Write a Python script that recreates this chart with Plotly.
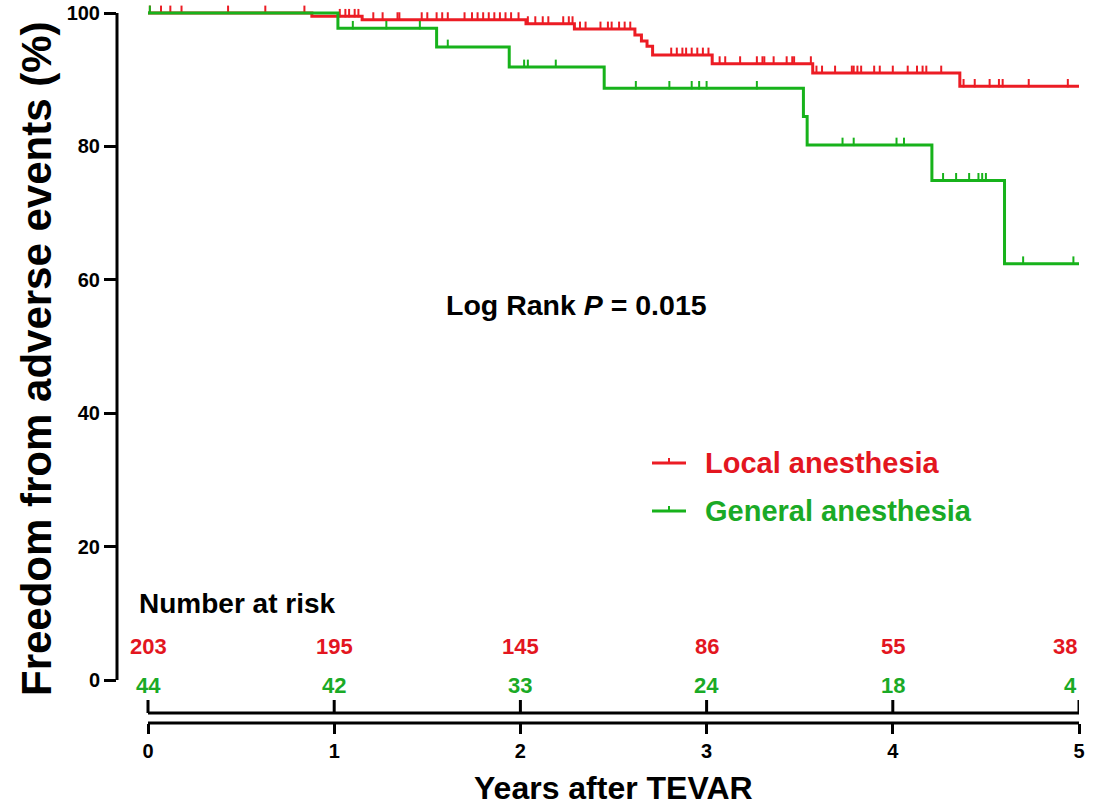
import plotly.graph_objects as go

# ---------------- data ----------------
years_ticks = [0, 1, 2, 3, 4, 5]
y_ticks = [0, 20, 40, 60, 80, 100]

# Local anesthesia (red): event times (years) and survival after each step (%)
local_event_t = [0.88, 1.15, 2.03, 2.29, 2.615, 2.65, 2.68, 2.71, 3.03, 3.57, 4.36]
local_event_s = [99.5, 99.0, 98.4, 97.6, 96.7, 95.8, 95.0, 93.7, 92.4, 91.0, 89.0]
local_censor_t = [0.01, 0.07, 0.12, 0.18, 0.43, 0.63, 0.84,
                  1.03, 1.06, 1.08, 1.11, 1.13,
                  1.21, 1.26, 1.34, 1.35, 1.47, 1.50, 1.55, 1.58, 1.61, 1.70,
                  1.74, 1.77, 1.80, 1.83, 1.86, 1.89, 1.92, 1.95, 1.99,
                  2.04, 2.08, 2.12, 2.15, 2.23, 2.26, 2.28,
                  2.32, 2.35, 2.43, 2.47, 2.49, 2.53, 2.56, 2.59,
                  2.81, 2.84, 2.87, 2.89, 2.92, 2.95, 2.98, 3.01,
                  3.07, 3.10, 3.18, 3.27, 3.30, 3.31, 3.36, 3.43, 3.46, 3.47, 3.56,
                  3.59, 3.62, 3.69, 3.78, 3.79, 3.81, 3.83, 3.90, 3.93, 4.00,
                  4.08, 4.13, 4.16, 4.18, 4.26,
                  4.38, 4.44, 4.52, 4.57, 4.59, 4.73, 4.94]

# General anesthesia (green)
general_event_t = [1.02, 1.55, 1.94, 2.45, 3.52, 3.54, 4.21, 4.60]
general_event_s = [97.7, 94.9, 91.9, 88.7, 84.5, 80.2, 74.9, 62.4]
general_censor_t = [0.01, 1.10, 1.28, 1.46, 1.61, 2.02, 2.04, 2.19,
                    2.62, 2.80, 2.92, 2.96, 3.00, 3.27,
                    3.73, 3.79, 4.02, 4.06,
                    4.27, 4.34, 4.41, 4.46, 4.48, 4.50,
                    4.70, 4.97]

risk_local = [203, 195, 145, 86, 55, 38]
risk_general = [44, 42, 33, 24, 18, 4]

series_names = ["Local anesthesia", "General anesthesia"]
log_rank_text = "Log Rank <i>P</i> = 0.015"

# ---------------- style ----------------
RED = "#EC1C24"
GREEN = "#17B21B"
RED_TXT = "#E3161F"
GREEN_TXT = "#1AAA26"
FONT = "Liberation Sans, Arial, Helvetica, sans-serif"

W, H = 1117, 808
ML, MR, MT, MB = 117, 38, 8, 85
PX_PER_YEAR = 186.2
PX_PER_PCT = 6.67
plot_w = W - ML - MR
plot_h = H - MT - MB
x_range = [5 - plot_w / PX_PER_YEAR, 5]
y_top = 100 + 5 / PX_PER_PCT
y_range = [y_top - plot_h / PX_PER_PCT, y_top]


def step_xy(ev_t, ev_s):
    xs = [0] + list(ev_t) + [5]
    ys = [100] + list(ev_s) + [ev_s[-1]]
    return xs, ys


def surv_at(t, ev_t, ev_s):
    s = 100.0
    for et, es in zip(ev_t, ev_s):
        if et <= t:
            s = es
    return s


fig = go.Figure()

for ev_t, ev_s, cen_t, col, name in [
    (local_event_t, local_event_s, local_censor_t, RED, series_names[0]),
    (general_event_t, general_event_s, general_censor_t, GREEN, series_names[1]),
]:
    xs, ys = step_xy(ev_t, ev_s)
    fig.add_trace(go.Scatter(x=xs, y=ys, mode="lines", line=dict(color=col, width=3, shape="hv"),
                             name=name, showlegend=False, hoverinfo="skip"))
    off = 3.2 / PX_PER_PCT
    fig.add_trace(go.Scatter(x=cen_t, y=[surv_at(t, ev_t, ev_s) + off for t in cen_t], mode="markers",
                             marker=dict(symbol="line-ns", size=6, line=dict(color=col, width=2)),
                             showlegend=False, hoverinfo="skip", cliponaxis=False))

shapes = []
# y axis line (0 to 100)
shapes.append(dict(type="line", xref="paper", yref="y", x0=0, x1=0, y0=0, y1=100,
                   line=dict(color="black", width=3)))
# lower x axis line
shapes.append(dict(type="line", xref="x", yref="paper", x0=0, x1=5, y0=0, y1=0,
                   line=dict(color="black", width=3)))
# upper (risk-table) axis line with upward ticks
up_y = 10 / plot_h
shapes.append(dict(type="line", xref="x", yref="paper", x0=0, x1=5, y0=up_y, y1=up_y,
                   line=dict(color="black", width=3)))
for t in years_ticks:
    shapes.append(dict(type="line", xref="x", yref="paper", x0=t, x1=t,
                       y0=up_y, y1=up_y + 13 / plot_h,
                       line=dict(color="black", width=3)))

annotations = []
# risk table
annotations.append(dict(text="<b>Number at risk</b>", x=-0.06, y=11.4, xref="x", yref="y",
                        xanchor="left", yanchor="middle", showarrow=False,
                        font=dict(family=FONT, size=28, color="black")))
for i, t in enumerate(years_ticks):
    anchor = "right" if t == 5 else "center"
    annotations.append(dict(text=f"<b>{risk_local[i]}</b>", x=t, y=5.0, xref="x", yref="y",
                            xanchor=anchor, yanchor="middle", showarrow=False,
                            font=dict(family=FONT, size=22, color=RED_TXT)))
    annotations.append(dict(text=f"<b>{risk_general[i]}</b>", x=t, y=-0.75, xref="x", yref="y",
                            xanchor=anchor, yanchor="middle", showarrow=False,
                            font=dict(family=FONT, size=22, color=GREEN_TXT)))

# log rank
annotations.append(dict(text=f"<b>{log_rank_text}</b>", x=2.30, y=56.2, xref="x", yref="y",
                        xanchor="center", yanchor="middle", showarrow=False,
                        font=dict(family=FONT, size=28.5, color="black")))

# manual legend
leg_items = [(series_names[0], RED, RED_TXT, 463), (series_names[1], GREEN, GREEN_TXT, 511)]
for name, col, tcol, py in leg_items:
    yv = (680 - py) / PX_PER_PCT
    x0 = (652 - 148) / PX_PER_YEAR
    x1 = (686 - 148) / PX_PER_YEAR
    xm = (669 - 148) / PX_PER_YEAR
    shapes.append(dict(type="line", xref="x", yref="y", x0=x0, x1=x1, y0=yv, y1=yv,
                       line=dict(color=col, width=3)))
    shapes.append(dict(type="line", xref="x", yref="y", x0=xm, x1=xm, y0=yv, y1=yv + 5 / PX_PER_PCT,
                       line=dict(color=col, width=2)))
    annotations.append(dict(text=f"<b>{name}</b>", x=(703 - 148) / PX_PER_YEAR, y=yv, xref="x", yref="y",
                            xanchor="left", yanchor="middle", showarrow=False,
                            font=dict(family=FONT, size=29, color=tcol)))

# axis titles
annotations.append(dict(text="<b>Freedom from adverse events (%)</b>", x=(36 - ML) / plot_w,
                        y=(H - MB - 359) / plot_h, xref="paper", yref="paper", textangle=-90,
                        xanchor="center", yanchor="middle", showarrow=False,
                        font=dict(family=FONT, size=42, color="black")))
annotations.append(dict(text="<b>Years after TEVAR</b>", x=2.5, y=-(788 - (H - MB)) / plot_h,
                        xref="x", yref="paper", xanchor="center", yanchor="middle", showarrow=False,
                        font=dict(family=FONT, size=32, color="black")))

fig.update_layout(
    width=W, height=H, autosize=False,
    margin=dict(l=ML, r=MR, t=MT, b=MB, pad=0, autoexpand=False),
    plot_bgcolor="white", paper_bgcolor="white",
    showlegend=False,
    shapes=shapes, annotations=annotations,
    xaxis=dict(range=x_range, tickvals=years_ticks, ticktext=[f"<b>{v}</b>" for v in years_ticks],
               ticks="outside", ticklen=10, tickwidth=3, tickcolor="black", automargin=False,
               showline=False, showgrid=False, zeroline=False,
               tickfont=dict(family=FONT, size=20, color="black")),
    yaxis=dict(range=y_range, tickvals=y_ticks, ticktext=[f"<b>{v}</b>" for v in y_ticks],
               ticks="outside", ticklen=12, tickwidth=3, tickcolor="black", automargin=False,
               showline=False, showgrid=False, zeroline=False,
               tickfont=dict(family=FONT, size=20, color="black")),
)

fig.write_html("out.html",
               config={"displayModeBar": False},
               post_script="document.body.style.margin='0';document.body.style.padding='0';"
                           "document.documentElement.style.overflow='hidden';")
